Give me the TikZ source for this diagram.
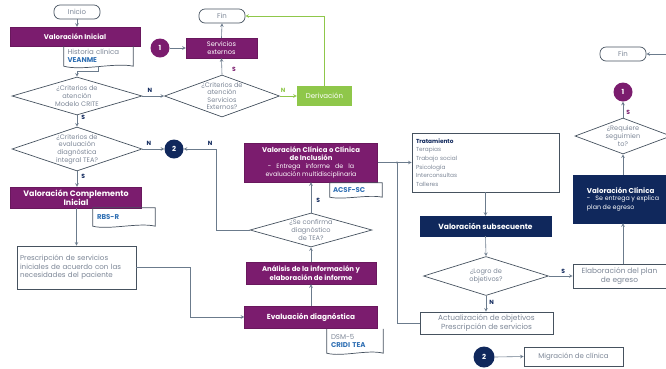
\documentclass[tikz,border=0pt]{standalone}
\usepackage{fontspec}
\setmainfont{Poppins}
\usetikzlibrary{shapes.geometric}

\definecolor{purp}{HTML}{7B1C6E}
\definecolor{navy}{HTML}{10285C}
\definecolor{lgreen}{HTML}{8FC74A}
\definecolor{lineg}{HTML}{6B7B8C}
\definecolor{edgeg}{HTML}{46525F}
\definecolor{txtg}{HTML}{7D8797}
\definecolor{docblue}{HTML}{2F6FB3}

\newcommand{\litefont}{\mdseries\fontsize{6.3}{7.3}\selectfont}

\begin{document}
\begin{tikzpicture}[x=1pt,y=-1pt,>=stealth,
  every node/.style={font=\fontsize{7}{8.2}\selectfont},
  purpbox/.style={fill=purp, draw=purp!85!black, text=white, align=center, inner sep=1pt,
    font=\bfseries\fontsize{6.9}{8.4}\selectfont},
  navybox/.style={fill=navy, draw=navy, text=white, align=center, inner sep=1pt,
    font=\bfseries\fontsize{7.1}{8.4}\selectfont},
  whitebox/.style={draw=edgeg, line width=0.7pt, fill=white, text=txtg, inner sep=2pt},
  term/.style={draw=edgeg, line width=0.7pt, rounded corners=6pt, text=txtg,
    minimum width=46pt, minimum height=14pt, inner sep=1pt},
  decision/.style={diamond, draw=edgeg, line width=0.7pt, inner sep=0pt},
  dtext/.style={text=txtg, align=center, inner sep=0pt, font=\fontsize{6.6}{7.6}\selectfont},
  circ/.style={circle, inner sep=0pt, minimum size=19pt, text=white,
    font=\bfseries\fontsize{7}{8}\selectfont},
  docnode/.style={inner sep=0pt, align=left, text=txtg},
  docline/.style={draw=edgeg, line width=0.7pt},
  flow/.style={->, draw=lineg, line width=0.6pt},
  lab/.style={inner sep=1pt, text=navy, font=\bfseries\fontsize{6}{7}\selectfont},
]
\useasboundingbox (0,0) rectangle (666,368);
\clip (0,0) rectangle (666,368);

%%%%%%%%%%%%%%%%%%%%%%%%%%%%%%%%%%%%%%%%%%
% Left column
\node[term] (inicio) at (77,12) {Inicio};
\node[purpbox, minimum width=130pt, minimum height=19pt] (vini) at (75,36.5) {Valoración Inicial};

% Historia clinica
\node[docnode, minimum width=69pt, minimum height=20pt, text width=62pt] (hist) at (98.5,56)
  {Historia clínica\\{\color{docblue}\bfseries VEANME}};
\draw[docline] (hist.north west) -- (hist.south west)
  .. controls +(18,5) and +(-18,-4) .. (hist.south east) -- (hist.north east);

\node[decision, minimum width=130pt, minimum height=38pt,
  label={[dtext, name=crite-t]center:{¿Criterios de\\atención\\Modelo CRITE}}] (crite) at (77,96) {};
\node[decision, minimum width=130pt, minimum height=44pt,
  label={[dtext, name=ceval-t]center:{¿Criterios de\\evaluación\\diagnóstica\\integral TEA?}}] (ceval) at (77,149) {};
\node[purpbox, minimum width=131pt, minimum height=21pt,
  font=\bfseries\fontsize{7.9}{9}\selectfont] (vcomp) at (76,197.5)
  {Valoración Complemento\\Inicial};

% RBS-R
\node[docnode, minimum width=62pt, minimum height=18pt, text width=54pt] (rbs) at (124,217)
  {{\color{docblue}\bfseries RBS-R}};
\draw[docline] (rbs.north west) -- (rbs.south west)
  .. controls +(16,4) and +(-16,-4) .. (rbs.south east) -- (rbs.north east) -- (rbs.north west);

\node[whitebox, minimum width=119pt, minimum height=43pt, text width=113pt, align=left,
  font=\fontsize{7.1}{8.6}\selectfont] (presc) at (76.5,267.5)
  {Prescripción de servicios\\iniciales de acuerdo con las\\necesidades del paciente};

%%%%%%%%%%%%%%%%%%%%%%%%%%%%%%%%%%%%%%%%%%
% Servicios externos
\node[circ, fill=purp] (c1a) at (160,48) {1};
\node[purpbox, minimum width=71pt, minimum height=20pt, font=\fontsize{6.6}{7.8}\selectfont] (sext) at (221.5,48)
  {Servicios\\externos};
\node[term] (fin1) at (222,16) {Fin};
\node[decision, minimum width=115pt, minimum height=42pt,
  label={[dtext, name=ext-t]center:{¿Criterios de\\atención\\Servicios\\Externos?}}] (ext) at (222,96) {};
\node[fill=lgreen, text=white, minimum width=55pt, minimum height=20pt, inner sep=1pt] (deriv) at (324.5,96)
  {Derivación};

%%%%%%%%%%%%%%%%%%%%%%%%%%%%%%%%%%%%%%%%%%
% Middle column
\node[circ, fill=navy] (c2a) at (174,149) {2};
\node[purpbox, minimum width=133pt, minimum height=39pt] (vclin) at (311,162.5)
  {Valoración Clínica o Clínica\\de Inclusión\\[-1pt]
   {\litefont -\ \ \ Entrega \ \ informe \ \ de \ \ la}\\{\litefont evaluación multidisciplinaria}};

% ACSF-SC
\node[docnode, minimum width=52pt, minimum height=14pt, text width=46pt] (acsf) at (356,190)
  {{\color{docblue}\bfseries ACSF-SC}};
\draw[docline] (acsf.north west) -- (acsf.south west)
  .. controls +(14,3) and +(-14,-3) .. (acsf.south east) -- (acsf.north east) -- (acsf.north west);

\node[decision, minimum width=122pt, minimum height=34pt,
  label={[dtext, name=conf-t]center:{¿Se confirma\\diagnóstico\\de TEA?}}] (conf) at (311,230) {};
\node[purpbox, minimum width=130pt, minimum height=22pt] (anal) at (311,273)
  {Análisis de la información y\\elaboración de informe};
\node[purpbox, minimum width=133pt, minimum height=22pt, font=\bfseries\fontsize{7.3}{8.4}\selectfont] (evald) at (311,317)
  {Evaluación diagnóstica};

% DSM-5
\node[docnode, minimum width=56pt, minimum height=24pt, text width=48pt] (dsm) at (355,341)
  {DSM-5\\{\color{docblue}\bfseries CRIDI TEA}};
\draw[docline] (dsm.north west) -- (dsm.south west)
  .. controls +(15,4) and +(-15,-4) .. (dsm.south east) -- (dsm.north east);

%%%%%%%%%%%%%%%%%%%%%%%%%%%%%%%%%%%%%%%%%%
% Right column
\node[whitebox, minimum width=147pt, minimum height=59pt, text width=139pt, align=left,
  font=\fontsize{5.8}{8.6}\selectfont] (trat) at (485.5,162.5)
  {{\color{navy}\bfseries Tratamiento}\\Terapias\\Trabajo social\\Psicología\\Interconsultas\\Talleres};
\node[navybox, minimum width=131pt, minimum height=20pt, font=\bfseries\fontsize{7.5}{8.4}\selectfont] (vsub) at (485.5,226) {Valoración subsecuente};
\node[decision, minimum width=125pt, minimum height=39pt,
  label={[dtext, name=logro-t]center:{¿Logro de\\objetivos?}}] (logro) at (486,276) {};
\node[whitebox, minimum width=133pt, minimum height=22pt, align=center, inner sep=1pt,
  font=\fontsize{7.4}{8.6}\selectfont] (act) at (486.5,323)
  {Actualización de objetivos\\Prescripción de servicios};
\node[circ, fill=navy, minimum size=21pt] (c2b) at (484,357) {2};
\node[whitebox, minimum width=99pt, minimum height=19pt] (mig) at (573.5,356.5) {Migración de clínica};

\node[whitebox, minimum width=93pt, minimum height=24pt, align=center, inner sep=1pt,
  font=\fontsize{7.4}{8.6}\selectfont] (plan) at (619.5,276)
  {Elaboración del plan\\de egreso};
\node[navybox, minimum width=100pt, minimum height=48pt, align=left] (vclin2) at (623,199)
  {Valoración Clínica\\[-1pt]{\litefont -\ \ \ Se entrega y explica}\\{\litefont plan de egreso}};
\node[decision, minimum width=96pt, minimum height=36pt,
  label={[dtext, name=req-t]center:{¿Requiere\\seguimien\\to?}}] (req) at (623,136) {};
\node[circ, fill=purp] (c1b) at (623,92) {1};
\node[term] (fin2) at (623,54) {Fin};
\coordinate (fin2r) at (680,54);

%%%%%%%%%%%%%%%%%%%%%%%%%%%%%%%%%%%%%%%%%%
% Connectors
\draw[flow] (inicio.south) -- (inicio.south |- vini.north);
\draw[flow] (hist.south) -- ++(0,5) -| (crite.north);
\draw[flow] (crite.east) -- (ext.west) node[lab, pos=0.35, above=2pt] {N};
\draw[flow] (ext.north) -- (sext.south) node[lab, pos=0.35, right=9pt, text=purp] {S};
\draw[flow] (c1a.east) -- (sext.west);
\draw[flow] (sext.north) -- (fin1.south);
\draw[->, draw=lgreen, line width=0.6pt] (ext.east) -- (deriv.west) node[lab, pos=0.2, above=2pt, text=lgreen] {N};
\draw[->, draw=lgreen, line width=0.6pt] (deriv.north) |- (fin1.east);
\draw[flow] (crite.south) -- (ceval.north) node[lab, pos=0.2, right=3pt] {S};
\draw[flow] (ceval.east) -- (c2a.west) node[lab, pos=0.3, above=2pt] {N};
\draw[flow] (ceval.south) -- (ceval.south |- vcomp.north) node[lab, pos=0.3, right=3pt] {S};
\draw[flow] (vcomp.south -| presc.north) -- (presc.north);
\draw[flow] (presc.east) -- ++(54,0) |- (evald.west);
\draw[flow] (evald.north) -- (anal.south);
\draw[flow] (anal.north) -- (conf.south);
\draw[flow] (conf.north) -- (vclin.south) node[lab, pos=0.4, right=4pt] {S};
\draw[flow] (conf.west) -- ++(-33,0) |- (c2a.east) node[lab, pos=0.6, above=2pt] {N};
\coordinate (jn) at (397,162.5);
\draw[flow] (vclin.east) -- (trat.west);
\draw[draw=lineg, line width=0.6pt] (act.west) -| (jn);
\fill[lineg] (jn) circle (1.2pt);
\draw[flow] (trat.south) -- (vsub.north);
\draw[flow] (vsub.south) -- (logro.north);
\draw[flow] (logro.east) -- (plan.west) node[lab, pos=0.6, above=1pt] {S};
\draw[flow] (logro.south) -- (logro.south |- act.north) node[lab, pos=0.4, right=2pt] {N};
\draw[flow] (c2b.east) -- (mig.west);
\draw[flow] (plan.north -| vclin2.south) -- (vclin2.south);
\draw[flow] (vclin2.north) -- (req.south);
\draw[flow] (req.north) -- (c1b.south) node[lab, pos=0.3, right=2pt, text=purp] {S};
\draw[flow] (fin2r) -- (fin2.east);

\end{tikzpicture}
\end{document}
